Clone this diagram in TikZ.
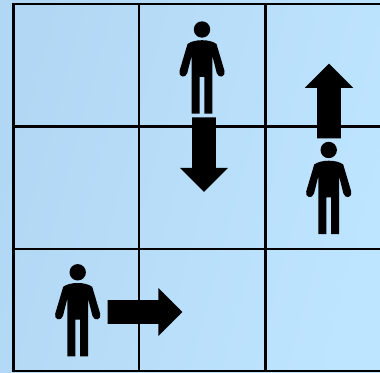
\documentclass[tikz,border=0pt]{standalone}
\usetikzlibrary{arrows.meta,positioning,shapes.arrows}
\definecolor{cellleft}{RGB}{178,215,244}
\definecolor{cellright}{RGB}{190,229,255}
\tikzset{
    gridline/.style={black, line width=2.4pt},
    bigarrow/.style={single arrow, fill=black, draw=none, anchor=tail, outer sep=0pt,
        inner sep=0pt, minimum height=74.6pt, minimum width=47.7pt,
        text width=0pt, text height=23.4pt, text depth=0pt,
        single arrow head extend=12.15pt, single arrow tip angle=90},
    pics/person/.style={code={
        \fill (0,0) circle (8.2);
        \fill (0,10.7) .. controls (6,10.7) and (11,12) .. (14.5,14.5)
            -- (22.5,41.5) .. controls (24,47.5) and (16.5,49.5) .. (14.7,43.5)
            -- (10.3,26) -- (10.3,84) -- (2.3,84) -- (2.3,47.3)
            -- (-2.3,47.3) -- (-2.3,84) -- (-10.3,84) -- (-10.3,26)
            -- (-14.7,43.5) .. controls (-16.5,49.5) and (-24,47.5) .. (-22.5,41.5)
            -- (-14.5,14.5) .. controls (-11,12) and (-6,10.7) .. (0,10.7) -- cycle;
    }}
}
\begin{document}
\begin{tikzpicture}[x=1pt,y=-1pt]
    % Background
    \shade[left color=cellleft, right color=cellright, shading angle=75] (0,0) rectangle (380,372);
    \useasboundingbox (0,0) rectangle (380,372);

    % Grid
    \foreach \gx in {13.5,139,265.5} {
        \draw[gridline] (\gx,3.5) -- (\gx,372);
    }
    \foreach \gy in {4,126.5,249,371.2} {
        \draw[gridline] (12.3,\gy) -- (380,\gy);
    }

    % Arrows
    \node[bigarrow, rotate=-90] (arrowdown) at (204,117.3) {};
    \node[bigarrow, rotate=90] (arrowup) at (329,138.3) {};
    \node[bigarrow] (arrowright) at (107.7,312) {};

    % People
    \pic (persontop) at (202,29.5) {person};
    \pic (personright) at (328.7,150) {person};
    \pic (personleft) at (77.7,272.3) {person};
\end{tikzpicture}
\end{document}
